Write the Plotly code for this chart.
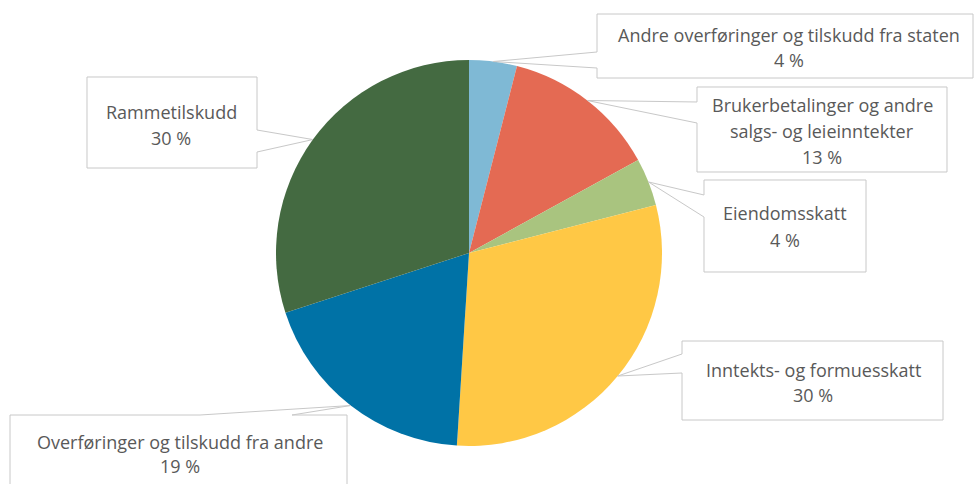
import math
import plotly.graph_objects as go

# ---- data ----
categories = [
    "Andre overføringer og tilskudd fra staten",
    "Brukerbetalinger og andre salgs- og leieinntekter",
    "Eiendomsskatt",
    "Inntekts- og formuesskatt",
    "Overføringer og tilskudd fra andre",
    "Rammetilskudd",
]
shares = [4, 13, 4, 30, 19, 30]
label_lines = [
    ["Andre overføringer og tilskudd fra staten"],
    ["Brukerbetalinger og andre", "salgs- og leieinntekter"],
    ["Eiendomsskatt"],
    ["Inntekts- og formuesskatt"],
    ["Overføringer og tilskudd fra andre"],
    ["Rammetilskudd"],
]
colors = ["#7FB9D5", "#E46A53", "#A9C47F", "#FFC845", "#0072A6", "#446A41"]

# ---- layout (pixels) ----
W, H = 975, 484
CX, CY, R = 469, 253, 193

# callout boxes: (x0, y0, x1, y1, side, base_a, base_b, text_cx, first_line_y, line_gap)
boxes = [
    (597, 14, 973, 78, "left", 52, 68, 789, 35, 25),
    (697, 87, 947, 172, "left", 102, 123, 822, 105, 26),
    (704, 180, 866, 272, "left", 195, 217, 785, 213, 27),
    (682, 341, 943, 420, "left", 354, 373, 813, 370, 25),
    (10, 415, 347, 500, "top", 200, 292, 180, 442, 24),
    (87, 77, 257, 168, "right", 130, 152, 171, 112, 26),
]


def px(x):
    return x / W


def py(y):
    return 1 - y / H


fig = go.Figure(
    go.Pie(
        labels=categories,
        values=shares,
        sort=False,
        direction="clockwise",
        rotation=0,
        marker=dict(colors=colors, line=dict(width=0)),
        textinfo="none",
        hoverinfo="label+percent",
        showlegend=False,
        domain=dict(x=[px(CX - R), px(CX + R)], y=[py(CY + R), py(CY - R)]),
    )
)

shapes = []
annotations = []
total = sum(shares)
cum = 0
for i, v in enumerate(shares):
    mid = (cum + v / 2) / total * 2 * math.pi
    cum += v
    ax = CX + R * math.sin(mid)
    ay = CY - R * math.cos(mid)
    x0, y0, x1, y1, side, a, b, tcx, ty, gap = boxes[i]
    if side == "left":
        pts = [(x0, y0), (x1, y0), (x1, y1), (x0, y1), (x0, b), (ax, ay), (x0, a)]
    elif side == "right":
        pts = [(x0, y0), (x1, y0), (x1, a), (ax, ay), (x1, b), (x1, y1), (x0, y1)]
    else:  # top
        pts = [(x0, y0), (a, y0), (ax, ay), (b, y0), (x1, y0), (x1, y1), (x0, y1)]
    path = "M " + " L ".join(f"{px(p[0]):.5f},{py(p[1]):.5f}" for p in pts) + " Z"
    shapes.append(dict(type="path", xref="paper", yref="paper", path=path,
                       fillcolor="white", line=dict(color="#C8C8C8", width=1),
                       layer="above"))
    lines = label_lines[i] + [f"{v} %"]
    for k, t in enumerate(lines):
        annotations.append(dict(
            text=t, x=px(tcx), y=py(ty + k * gap), xref="paper", yref="paper",
            showarrow=False, xanchor="center", yanchor="middle",
            font=dict(family="Open Sans", size=18, color="#595959"),
        ))

fig.update_layout(
    width=W, height=H,
    margin=dict(l=0, r=0, t=0, b=0),
    paper_bgcolor="white", plot_bgcolor="white",
    shapes=shapes, annotations=annotations,
)

fig.write_html(
    "out.html",
    config={"displayModeBar": False},
    post_script="document.body.style.margin='0';document.body.style.overflow='hidden';",
)
